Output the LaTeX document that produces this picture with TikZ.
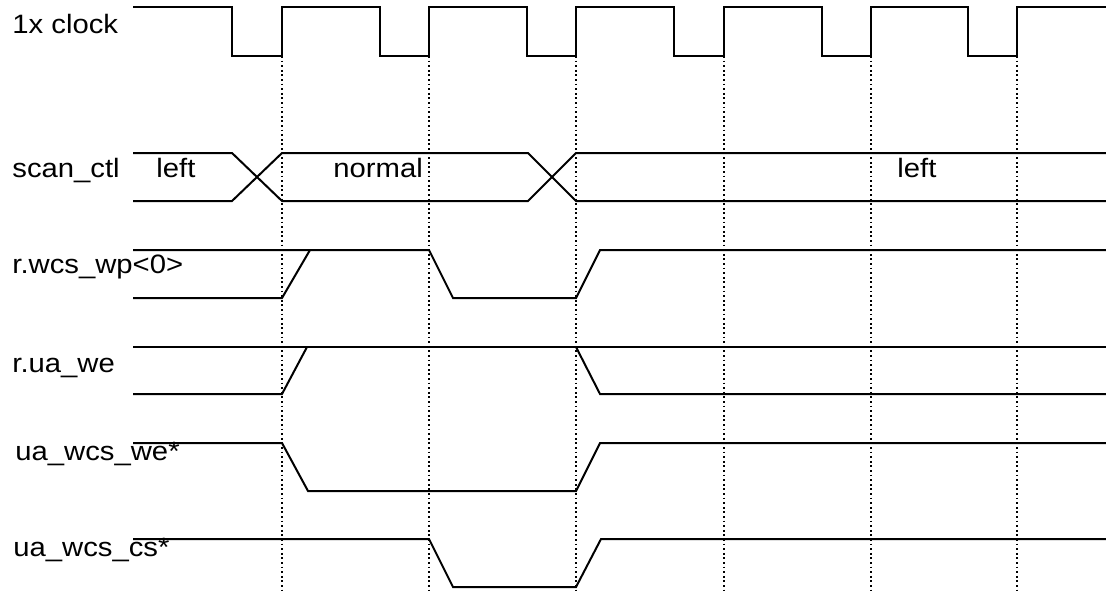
\documentclass[tikz,border=0pt]{standalone}
\usepackage{fontspec}
\setmainfont{Liberation Sans}[FakeStretch=1.1]
\begin{document}
\begin{tikzpicture}[x=0.5pt,y=-0.5pt,
  wave/.style={line width=1pt,line join=miter},
  grid/.style={line width=1pt,dash pattern=on 0.9pt off 1.4pt},
  lbl/.style={anchor=base west,inner sep=0pt,font=\fontsize{13.3}{15}\selectfont}]
\useasboundingbox (0,0) rectangle (1106,590);
% labels
\node[lbl] (lclk) at (12,33) {1x clock};
\node[lbl] (lscan) at (12,177) {scan\_ctl};
\node[lbl] (lwp) at (12,273) {r.wcs\_wp<0>};
\node[lbl] (lwe) at (12,372) {r.ua\_we};
\node[lbl] (lwcswe) at (15,460) {ua\_wcs\_we*};
\node[lbl] (lwcscs) at (13,556) {ua\_wcs\_cs*};
\node[lbl] (sleft1) at (156,177) {left};
\node[lbl] (snormal) at (333,177) {normal};
\node[lbl] (sleft2) at (897,177) {left};
% dotted grid lines
\foreach \x in {282,429,576,724,871,1017}
  \draw[grid] (\x,56) -- (\x,590);
% clock
\draw[wave] (133,7) -- (232,7) -- (232,56) -- (282,56) -- (282,7) -- (380,7) -- (380,56) -- (429,56) -- (429,7)
  -- (527,7) -- (527,56) -- (576,56) -- (576,7) -- (674,7) -- (674,56) -- (724,56) -- (724,7)
  -- (822,7) -- (822,56) -- (871,56) -- (871,7) -- (968,7) -- (968,56) -- (1017,56) -- (1017,7) -- (1106,7);
% scan_ctl
\draw[wave] (133,153) -- (232,153) -- (282,201) -- (528,201) -- (576,153) -- (1106,153);
\draw[wave] (133,201) -- (232,201) -- (282,153) -- (528,153) -- (576,201) -- (1106,201);
% r.wcs_wp<0>
\draw[wave] (133,250) -- (429,250) -- (453,298) -- (576,298) -- (600,250) -- (1106,250);
\draw[wave] (133,298) -- (282,298) -- (310,250);
% r.ua_we
\draw[wave] (133,347) -- (1106,347);
\draw[wave] (133,394) -- (282,394) -- (307,347);
\draw[wave] (576,347) -- (600,394) -- (1106,394);
% ua_wcs_we*
\draw[wave] (133,443) -- (282,443) -- (308,491) -- (576,491) -- (600,443) -- (1106,443);
% ua_wcs_cs*
\draw[wave] (133,539) -- (429,539) -- (453,587) -- (576,587) -- (601,539) -- (1106,539);
\end{tikzpicture}
\end{document}
